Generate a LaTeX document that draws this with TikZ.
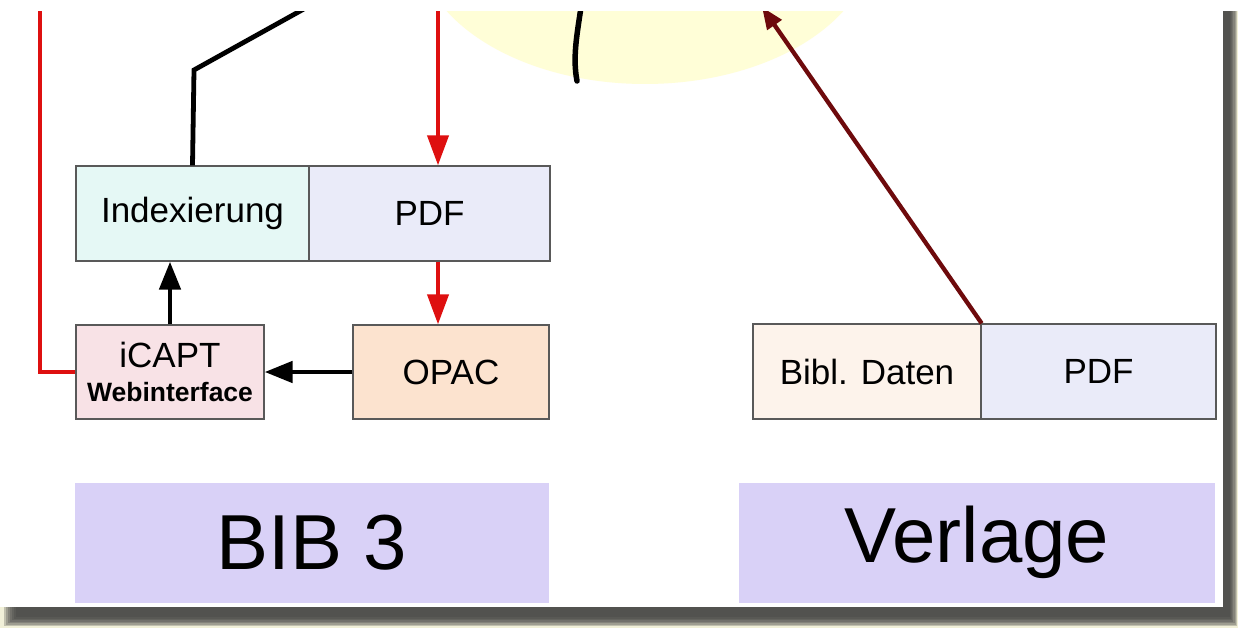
\documentclass[tikz,border=0pt]{standalone}
\usepackage{fontspec}
\setmainfont{Liberation Sans}
\usetikzlibrary{arrows.meta}
\definecolor{bgc}{RGB}{241,240,216}
\definecolor{ellc}{RGB}{255,254,215}
\definecolor{redc}{RGB}{222,16,16}
\definecolor{maroonc}{RGB}{110,10,12}
\definecolor{cyanbox}{RGB}{229,248,245}
\definecolor{lavbox}{RGB}{234,235,249}
\definecolor{pinkbox}{RGB}{248,226,230}
\definecolor{peachbox}{RGB}{252,227,207}
\definecolor{creambox}{RGB}{253,243,235}
\definecolor{titlebox}{RGB}{217,209,247}
\tikzset{
  box/.style={draw=black!65, line width=1.3pt, inner sep=0pt, font=\fontsize{35}{38}\selectfont},
  titlefill/.style={fill=titlebox, inner sep=0pt, font=\fontsize{78}{80}\selectfont},
  blk/.style={line width=4.8pt, black},
  redl/.style={line width=4pt, redc},
  redarr/.style={redl, -{Triangle[length=30pt,width=21pt]}},
  blkarr/.style={blk, -{Triangle[length=28pt,width=21pt]}},
  maroonarr/.style={line width=4.3pt, maroonc, -{Triangle[length=22pt,width=17pt]}},
}
\begin{document}
\begin{tikzpicture}[x=1pt,y=-1pt]
\useasboundingbox (0,0) rectangle (1238,628);
% background and page shadow
\fill[bgc] (0,0) rectangle (1238,628);
\foreach \k in {0,...,6}
  \fill[black!75, opacity=0.27] ({4+2*\k},11) rectangle ({1237-1.2*\k},{626-1.5*\k});
\fill[white] (-1,-1) rectangle (1223,607);
% pale ellipse
\fill[ellc] (645,-60) ellipse [x radius=228pt, y radius=144pt];
% boxes
\node[box, fill=cyanbox, minimum width=233pt, minimum height=95pt] (idx) at (192.5,213.5) {Indexierung};
\node[box, fill=lavbox, minimum width=241pt, minimum height=95pt] (pdfa) at (429.5,213.5) {PDF};
\node[box, fill=pinkbox, minimum width=188pt, minimum height=94pt, align=center] (icapt) at (170,372)
  {\fontsize{35}{38}\selectfont iCAPT\\[-4pt]{\fontsize{26.5}{29}\selectfont\bfseries Webinterface}};
\node[box, fill=peachbox, minimum width=196pt, minimum height=94pt] (opac) at (451,372) {OPAC};
\node[box, fill=creambox, minimum width=228pt, minimum height=95pt] (bibl) at (867,371.5) {Bibl. Daten};
\node[box, fill=lavbox, minimum width=235pt, minimum height=95pt] (pdfb) at (1098.5,371.5) {PDF};
\node[titlefill, minimum width=474pt, minimum height=120pt] (bib3) at (312,543) {BIB 3};
\node[titlefill, minimum width=476pt, minimum height=120pt] (verlage) at (977,542.5) {Verlage};
% free ends
\coordinate (redtop) at (40,0);
\coordinate (redtop2) at (438,0);
\coordinate (bkbend) at (194,70);
\coordinate (bktop) at (320,0);
\coordinate (mtop) at (762,7);
% connectors
\draw[redl] (redtop) |- (icapt.west);
\draw[blk] (idx.north) -- (bkbend) -- (bktop);
\draw[redarr] (redtop2) -- (redtop2 |- pdfa.north);
\draw[redarr] (redtop2 |- pdfa.south) -- (redtop2 |- opac.north);
\draw[blkarr] (icapt.north) -- (icapt.north |- idx.south);
\draw[blkarr] (opac.west) -- (icapt.east);
\draw[maroonarr] (bibl.north east) -- (mtop);
\draw[line width=5.5pt, line cap=round] (577,81) .. controls (572,55) and (578,30) .. (582,0);
% top white strip
\fill[white] (0,0) rectangle (1238,11);
\end{tikzpicture}
\end{document}
